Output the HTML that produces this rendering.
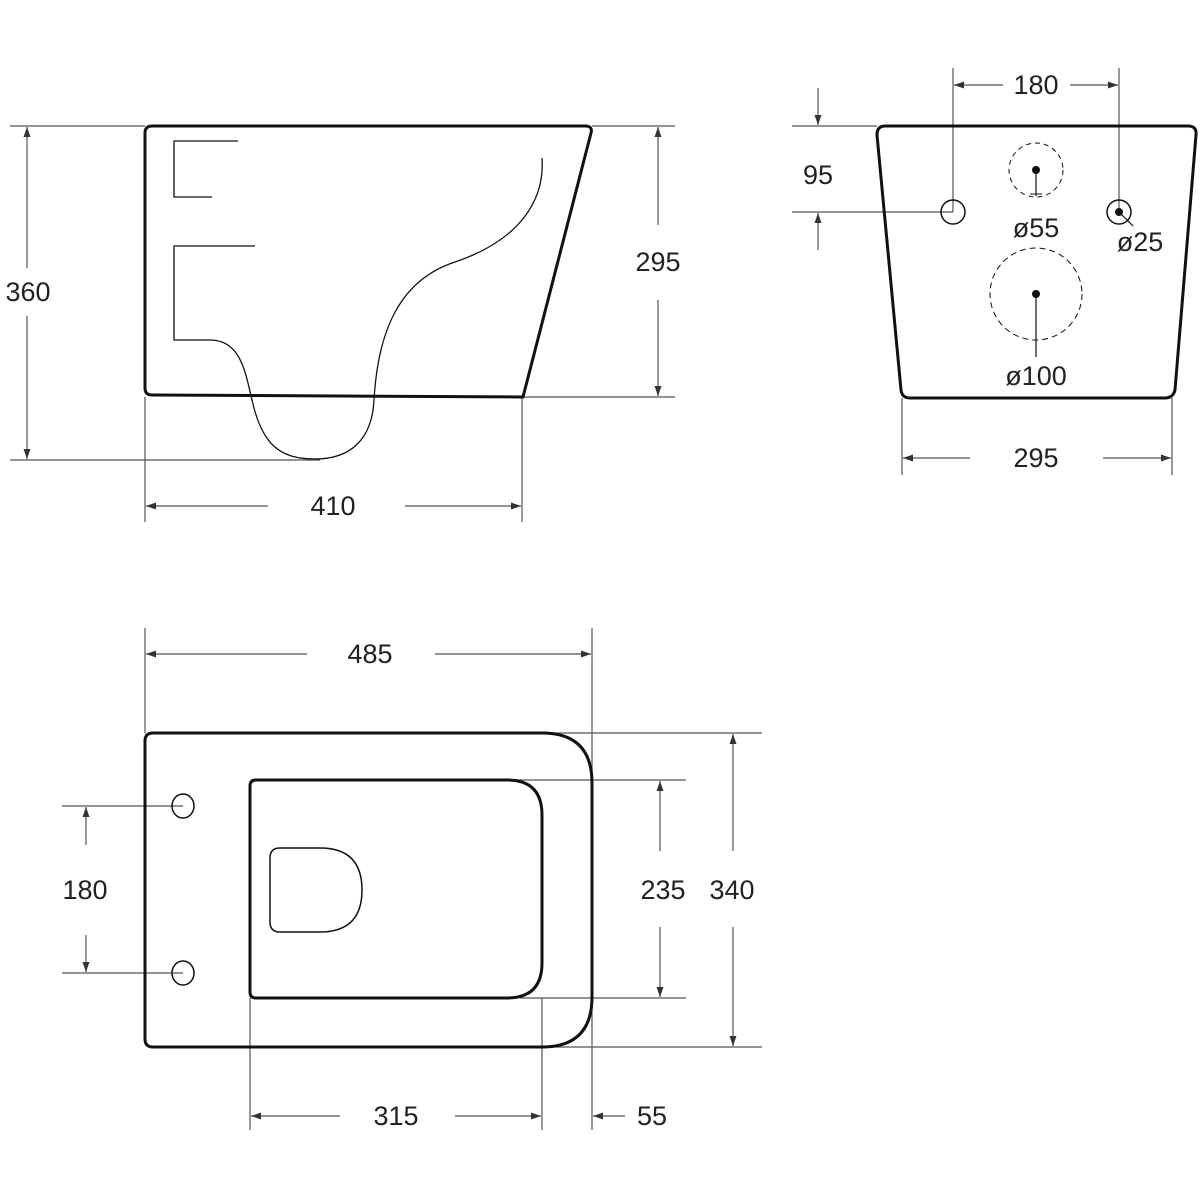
<!DOCTYPE html>
<html><head><style>body{margin:0;background:#fff}svg{display:block}text{font-family:"Liberation Sans",sans-serif;font-size:27px;fill:#222;text-anchor:middle;dominant-baseline:central}</style></head>
<body>
<svg width="1200" height="1200" viewBox="0 0 1200 1200" xmlns="http://www.w3.org/2000/svg">
<defs>
<marker id="a" viewBox="0 0 10 10" refX="10" refY="5" markerWidth="12" markerHeight="10" markerUnits="userSpaceOnUse" orient="auto-start-reverse"><path d="M0,1.5 L10,5 L0,8.5 z" fill="#333"/></marker>
</defs>
<g stroke="#555" stroke-width="1.2" fill="none">
<!-- side view dims -->
<line x1="10" y1="126" x2="145" y2="126"/><line x1="10" y1="460" x2="320" y2="460"/>
<line x1="27" y1="127" x2="27" y2="268" marker-start="url(#a)"/><line x1="27" y1="316" x2="27" y2="459" marker-end="url(#a)"/>
<line x1="592" y1="126" x2="675" y2="126"/><line x1="522" y1="397" x2="675" y2="397"/>
<line x1="658" y1="127" x2="658" y2="225" marker-start="url(#a)"/><line x1="658" y1="300" x2="658" y2="396" marker-end="url(#a)"/>
<line x1="145" y1="397" x2="145" y2="522"/><line x1="522" y1="397" x2="522" y2="522"/>
<line x1="146" y1="506" x2="268" y2="506" marker-start="url(#a)"/><line x1="405" y1="506" x2="521" y2="506" marker-end="url(#a)"/>
<!-- front view dims -->
<line x1="953" y1="68" x2="953" y2="212"/><line x1="1119" y1="68" x2="1119" y2="212"/>
<line x1="954" y1="85" x2="1003" y2="85" marker-start="url(#a)"/><line x1="1070" y1="85" x2="1118" y2="85" marker-end="url(#a)"/>
<line x1="792" y1="126" x2="877" y2="126"/><line x1="792" y1="212" x2="953" y2="212"/>
<line x1="818" y1="88" x2="818" y2="125" marker-end="url(#a)"/><line x1="818" y1="250" x2="818" y2="213" marker-end="url(#a)"/>
<line x1="902" y1="398" x2="902" y2="475"/><line x1="1172" y1="398" x2="1172" y2="475"/>
<line x1="903" y1="458" x2="970" y2="458" marker-start="url(#a)"/><line x1="1103" y1="458" x2="1171" y2="458" marker-end="url(#a)"/>
<!-- top view dims -->
<line x1="145" y1="628" x2="145" y2="733"/><line x1="592" y1="628" x2="592" y2="1130"/>
<line x1="146" y1="654" x2="307" y2="654" marker-start="url(#a)"/><line x1="435" y1="654" x2="591" y2="654" marker-end="url(#a)"/>
<line x1="545" y1="733" x2="762" y2="733"/><line x1="545" y1="1047" x2="762" y2="1047"/>
<line x1="733" y1="734" x2="733" y2="851" marker-start="url(#a)"/><line x1="733" y1="927" x2="733" y2="1046" marker-end="url(#a)"/>
<line x1="500" y1="780" x2="686" y2="780"/><line x1="520" y1="998" x2="686" y2="998"/>
<line x1="660" y1="781" x2="660" y2="851" marker-start="url(#a)"/><line x1="660" y1="927" x2="660" y2="997" marker-end="url(#a)"/>
<line x1="62" y1="806" x2="183" y2="806"/><line x1="62" y1="973" x2="183" y2="973"/>
<line x1="86" y1="845" x2="86" y2="807" marker-end="url(#a)"/><line x1="86" y1="935" x2="86" y2="972" marker-end="url(#a)"/>
<line x1="250" y1="998" x2="250" y2="1130"/><line x1="542" y1="998" x2="542" y2="1130"/>
<line x1="251" y1="1116" x2="340" y2="1116" marker-start="url(#a)"/><line x1="455" y1="1116" x2="541" y2="1116" marker-end="url(#a)"/>
<line x1="625" y1="1116" x2="593" y2="1116" marker-end="url(#a)"/>
</g>
<g stroke="#111" fill="none">
<!-- side view -->
<path d="M152,126 L585,126 Q593,126 591,133 L523,397 L152,395 Q145,395 145,388 L145,133 Q145,126 152,126 Z" stroke-width="3"/>
<path d="M238,141 L174,141 L174,197 L212,197 M255,246 L174,246 L174,340 L210,340 C240,340 245,370 252,400 C262,445 280,459 315,459 C350,459 372,440 374,400 C378,330 400,280 455,262 C520,240 545,200 542,158" stroke-width="1.3"/>
<!-- front view -->
<path d="M885,126 L1188,126 Q1197,126 1196,135 L1175,390 Q1173,398 1165,398 L910,398 Q902,398 901,390 L877,135 Q877,126 885,126 Z" stroke-width="3"/>
<circle cx="953" cy="212" r="12" stroke-width="1.5"/>
<circle cx="1119" cy="212" r="12" stroke-width="1.5"/>
<circle cx="1036" cy="170" r="27" stroke-width="1" stroke-dasharray="5,4"/>
<circle cx="1036" cy="294" r="46" stroke-width="1" stroke-dasharray="6,4"/>
<line x1="1036" y1="170" x2="1036" y2="196" stroke-width="1.2"/><line x1="1030" y1="194" x2="1042" y2="194" stroke-width="1"/>
<line x1="1036" y1="294" x2="1036" y2="357" stroke-width="1.2"/>
<line x1="1119" y1="212" x2="1133" y2="226" stroke-width="1.2"/>
<!-- top view -->
<path d="M153,733 L542,733 Q592,733 592,783 L592,997 Q592,1047 542,1047 L153,1047 Q145,1047 145,1039 L145,741 Q145,733 153,733 Z" stroke-width="3"/>
<path d="M256,780 L507,780 Q542,780 542,815 L542,963 Q542,998 507,998 L256,998 Q250,998 250,992 L250,786 Q250,780 256,780 Z" stroke-width="3"/>
<path d="M280,848 L320,848 Q362,848 362,890 Q362,932 320,932 L280,932 Q270,932 270,922 L270,858 Q270,848 280,848 Z" stroke-width="1.5"/>
<ellipse cx="183" cy="806" rx="11" ry="12" stroke-width="1.5"/>
<ellipse cx="183" cy="973" rx="11" ry="12" stroke-width="1.5"/>
</g>
<g fill="#111">
<circle cx="1119" cy="212" r="4"/><circle cx="1036" cy="170" r="4"/><circle cx="1036" cy="294" r="4"/>
</g>
<text x="28" y="292">360</text>
<text x="658" y="262">295</text>
<text x="333" y="506">410</text>
<text x="1036" y="85">180</text>
<text x="818" y="175">95</text>
<text x="1036" y="228">ø55</text>
<text x="1140" y="242">ø25</text>
<text x="1036" y="376">ø100</text>
<text x="1036" y="458">295</text>
<text x="370" y="654">485</text>
<text x="732" y="890">340</text>
<text x="663" y="890">235</text>
<text x="85" y="890">180</text>
<text x="396" y="1116">315</text>
<text x="652" y="1116">55</text>
</svg>
</body></html>
